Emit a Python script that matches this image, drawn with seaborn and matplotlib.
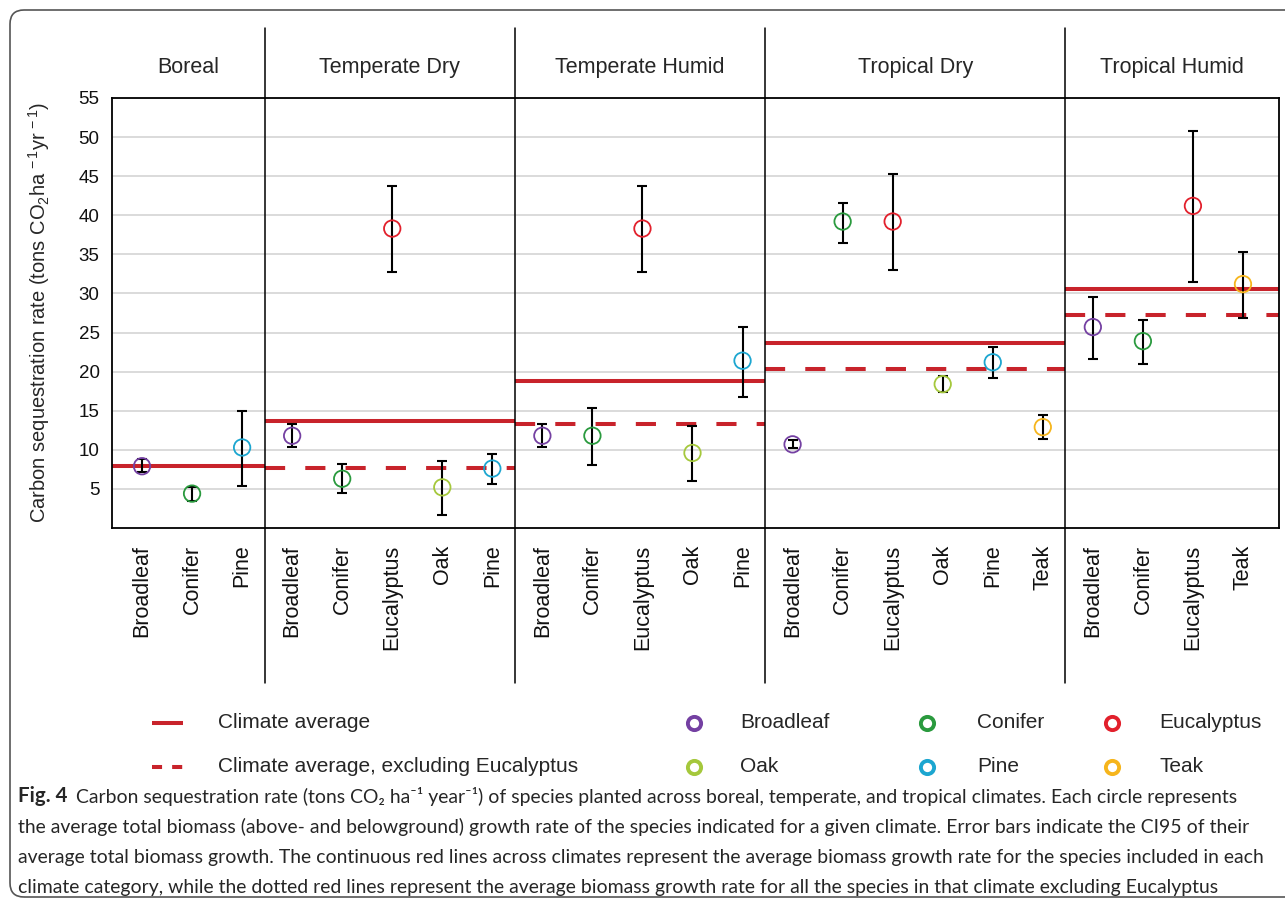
import numpy as np
import pandas as pd
import seaborn as sns
import matplotlib.pyplot as plt
from matplotlib.lines import Line2D
from matplotlib.patches import FancyBboxPatch
from matplotlib.transforms import IdentityTransform

# -----------------------------
# Data
# -----------------------------
climates = ["Boreal", "Temperate Dry", "Temperate Humid", "Tropical Dry", "Tropical Humid"]
climate_species = [
    ["Broadleaf", "Conifer", "Pine"],
    ["Broadleaf", "Conifer", "Eucalyptus", "Oak", "Pine"],
    ["Broadleaf", "Conifer", "Eucalyptus", "Oak", "Pine"],
    ["Broadleaf", "Conifer", "Eucalyptus", "Oak", "Pine", "Teak"],
    ["Broadleaf", "Conifer", "Eucalyptus", "Teak"],
]
rate_mean = [7.9, 4.4, 10.3,
             11.8, 6.3, 38.3, 5.2, 7.6,
             11.8, 11.8, 38.3, 9.6, 21.4,
             10.7, 39.2, 39.2, 18.4, 21.2, 12.9,
             25.7, 23.9, 41.2, 31.2]
ci_low = [7.1, 3.5, 5.4,
          10.4, 4.5, 32.8, 1.6, 5.6,
          10.4, 8.0, 32.8, 6.0, 16.8,
          10.2, 36.5, 33.0, 17.4, 19.2, 11.4,
          21.6, 21.0, 31.5, 26.9]
ci_high = [8.8, 5.3, 15.0,
           13.3, 8.2, 43.8, 8.6, 9.5,
           13.3, 15.3, 43.8, 13.1, 25.7,
           11.3, 41.6, 45.3, 19.4, 23.1, 14.5,
           29.5, 26.6, 50.8, 35.3]
climate_avg = [7.9, 13.7, 18.8, 23.6, 30.6]
climate_avg_no_euc = [np.nan, 7.7, 13.3, 20.3, 27.2]

species_order = ["Broadleaf", "Conifer", "Eucalyptus", "Oak", "Pine", "Teak"]
species_colors = ["#7440a2", "#2a9a3e", "#e2202c", "#a5c83c", "#1ca6d0", "#f6b51c"]
red = "#c8232b"

rows = []
for clim, spp in zip(climates, climate_species):
    for sp in spp:
        rows.append((clim, sp))
df = pd.DataFrame(rows, columns=["climate", "species"])
df["pos"] = np.arange(len(df))
df["rate"] = rate_mean
df["lo"] = ci_low
df["hi"] = ci_high

counts = [len(s) for s in climate_species]
bounds = [-0.6] + [c - 0.55 for c in np.cumsum(counts)[:-1]] + [len(df) - 0.28]

# -----------------------------
# Styling
# -----------------------------
sns.set_theme(style="white")
plt.rcParams["font.family"] = ["Liberation Sans", "DejaVu Sans"]
plt.rcParams["mathtext.fontset"] = "custom"
plt.rcParams["mathtext.rm"] = "Liberation Sans"
plt.rcParams["mathtext.it"] = "Liberation Sans:italic"

W, H = 1285, 898
fig = plt.figure(figsize=(W / 100, H / 100), dpi=100)
ax = fig.add_axes([112 / W, 1 - 528 / H, (1279 - 112) / W, (528 - 98) / H])

# error bars first, circles on top
ax.errorbar(df["pos"], df["rate"], yerr=[df["rate"] - df["lo"], df["hi"] - df["rate"]],
            fmt="none", ecolor="black", elinewidth=1.5, capsize=3.8, capthick=1.5, zorder=3)

sns.scatterplot(data=df, x="pos", y="rate", hue="species", hue_order=species_order,
                palette=species_colors, s=140, linewidth=1.3, legend=False, ax=ax, zorder=4)
pts = ax.collections[-1]
pts.set_edgecolors(pts.get_facecolors())
pts.set_facecolors("none")

# climate averages
for i in range(len(climates)):
    x0, x1 = bounds[i], bounds[i + 1]
    ax.plot([x0, x1], [climate_avg[i]] * 2, color=red, lw=2.9, solid_capstyle="butt", zorder=2)
    if not np.isnan(climate_avg_no_euc[i]):
        ax.plot([x0, x1], [climate_avg_no_euc[i]] * 2, color=red, lw=2.9,
                dashes=(5, 5), dash_capstyle="butt", zorder=2)

ax.set_xlim(-0.6, len(df) - 0.28)
ax.set_ylim(0, 55)
ax.set_yticks(range(5, 56, 5))
ax.set_xticks(df["pos"])
ax.set_xticklabels(df["species"], rotation=90)
ax.tick_params(axis="y", length=0, pad=9, labelsize=13.5, colors="#111111")
ax.tick_params(axis="x", length=0, pad=12, labelsize=15.5, colors="#111111")
ax.yaxis.grid(True, color="#d8d8d8", lw=1.3)
ax.xaxis.grid(False)
ax.set_axisbelow(True)
for sp in ax.spines.values():
    sp.set_color("black")
    sp.set_linewidth(1.3)
ax.set_xlabel("")
ax.set_ylabel(r"Carbon sequestration rate (tons CO$_2$ha$^{\,-1}$yr$^{\,-1}$)", fontsize=14.5)
ax.yaxis.set_label_coords(-0.051, 0.5)

# climate dividers and headers
xt = ax.get_xaxis_transform()
for b in bounds[1:-1]:
    ax.plot([b, b], [1.163, -0.36], transform=xt, color="black", lw=1.1, clip_on=False)
for i, name in enumerate(climates):
    ax.text((bounds[i] + bounds[i + 1]) / 2, 1.07, name, transform=xt,
            ha="center", va="center", fontsize=15.5)

# -----------------------------
# Legend (manual, two rows)
# -----------------------------
def fx(px):
    return px / W

def fy(py):
    return 1 - py / H

rows_y = [723, 767]
fig.add_artist(Line2D([fx(152), fx(183)], [fy(rows_y[0])] * 2, color=red, lw=2.9,
                      solid_capstyle="butt", transform=fig.transFigure))
fig.add_artist(Line2D([fx(152), fx(183)], [fy(rows_y[1])] * 2, color=red, lw=2.9,
                      dashes=(2.5, 2.5), dash_capstyle="butt", transform=fig.transFigure))
fig.text(fx(218), fy(rows_y[0]), "Climate average", fontsize=15, va="center")
fig.text(fx(218), fy(rows_y[1]), "Climate average, excluding Eucalyptus", fontsize=15, va="center")

mark_x = [694, 927, 1112]
text_x = [740, 977, 1159]
for k, (sp, col) in enumerate(zip(species_order, species_colors)):
    r, c = divmod(k, 3)
    fig.add_artist(Line2D([fx(mark_x[c])], [fy(rows_y[r])], marker="o", ms=9.5, mfc="none",
                          mec=col, mew=2.8, transform=fig.transFigure))
    fig.text(fx(text_x[c]), fy(rows_y[r]), sp, fontsize=15, va="center")

# -----------------------------
# Caption
# -----------------------------
cap_font = ["Lato", "DejaVu Sans"]
cap_lines = [
    "Carbon sequestration rate (tons CO\u2082 ha\u207b\u00b9 year\u207b\u00b9) of species planted across boreal, temperate, and tropical climates. Each circle represents",
    "the average total biomass (above- and belowground) growth rate of the species indicated for a given climate. Error bars indicate the CI95 of their",
    "average total biomass growth. The continuous red lines across climates represent the average biomass growth rate for the species included in each",
    "climate category, while the dotted red lines represent the average biomass growth rate for all the species in that climate excluding Eucalyptus",
]
cap_y = [796, 827, 858, 888]

# size the caption so that its longest line (the third) fills the frame width
renderer = fig.canvas.get_renderer()
probe = fig.text(0, 0, cap_lines[2], fontsize=12, family=cap_font)
cap_size = 12 * 1245 / probe.get_window_extent(renderer).width
probe.remove()

fig_lbl = fig.text(fx(18), fy(cap_y[0]), "Fig. 4", fontsize=cap_size + 0.8, fontweight="bold",
                   family=cap_font, va="center")
x_after = fig_lbl.get_window_extent(renderer).x1 + 9
fig.text(x_after / W, fy(cap_y[0]), cap_lines[0], fontsize=cap_size, family=cap_font, va="center")
for line, y in zip(cap_lines[1:], cap_y[1:]):
    fig.text(fx(18), fy(y), line, fontsize=cap_size, family=cap_font, va="center")

# rounded frame around the whole figure
fig.add_artist(FancyBboxPatch((10, 1), 1300, 887, boxstyle="round,pad=0,rounding_size=14",
                              fc="none", ec="#555555", lw=1.2, transform=IdentityTransform()))

fig.savefig("out.png", dpi=100)
plt.close(fig)
